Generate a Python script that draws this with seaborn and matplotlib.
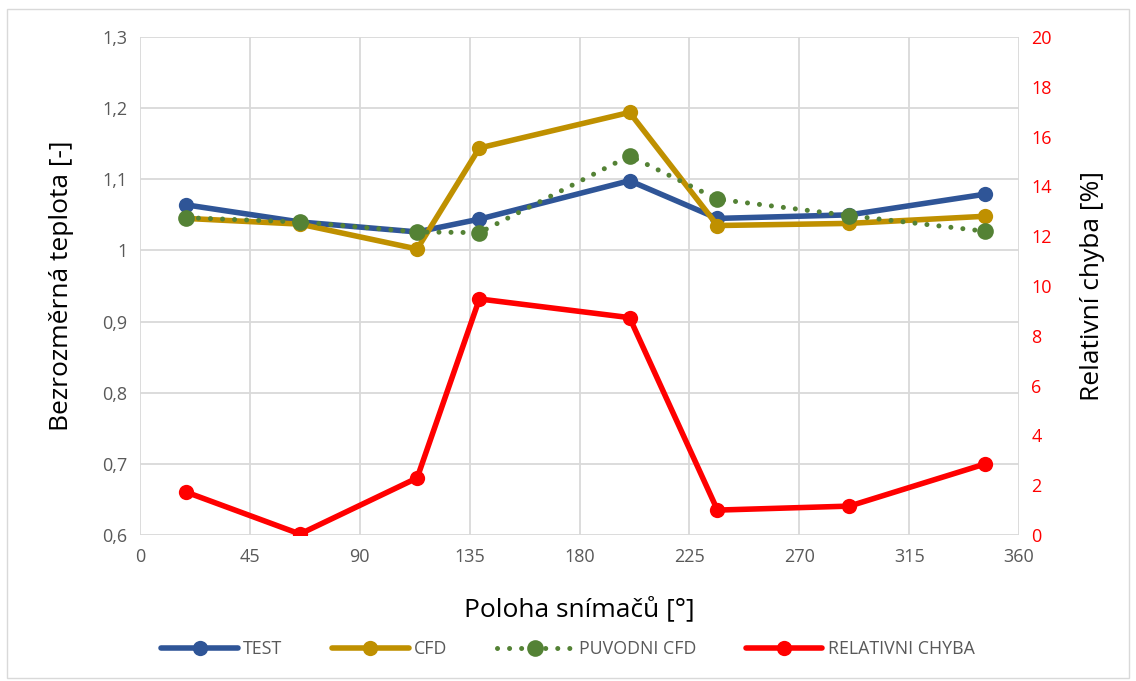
import matplotlib
matplotlib.use("Agg")
import matplotlib.pyplot as plt
import seaborn as sns
import pandas as pd
from matplotlib.patches import Rectangle
from matplotlib.ticker import FuncFormatter, MultipleLocator

poloha = [19, 65.5, 113.5, 139, 200.5, 236.5, 290.5, 346]
test = [1.064, 1.040, 1.026, 1.044, 1.098, 1.045, 1.050, 1.079]
cfd = [1.045, 1.037, 1.002, 1.144, 1.194, 1.035, 1.038, 1.048]
puvodni = [1.046, 1.040, 1.026, 1.025, 1.133, 1.072, 1.049, 1.027]
chyba = [1.72, 0.04, 2.29, 9.48, 8.73, 1.0, 1.16, 2.85]

sns.set_theme(style="white")
plt.rcParams['font.family'] = ['Open Sans', 'DejaVu Sans']

fig = plt.figure(figsize=(11.36, 6.81), dpi=100)
ax = fig.add_axes([140/1136, 1-535/681, 879/1136, 498/681])
ax2 = ax.twinx()

df = pd.DataFrame({"x": poloha, "test": test, "cfd": cfd, "puv": puvodni, "ch": chyba})

c_test = "#2F5597"
c_cfd = "#BF9000"
c_puv = "#548235"
c_red = "#FF0000"

sns.lineplot(data=df, x="x", y="test", ax=ax, color=c_test, lw=4, marker="o",
             markersize=11, markeredgewidth=0, label="TEST", legend=False, zorder=3)
sns.lineplot(data=df, x="x", y="cfd", ax=ax, color=c_cfd, lw=4, marker="o",
             markersize=11, markeredgewidth=0, label="CFD", legend=False, zorder=3)
sns.lineplot(data=df, x="x", y="puv", ax=ax, color=c_puv, lw=3.6, marker="o",
             markersize=12, markeredgewidth=0, label="PUVODNI CFD", legend=False, zorder=4,
             linestyle=(0, (0.01, 2.4)))
sns.lineplot(data=df, x="x", y="ch", ax=ax2, color=c_red, lw=4, marker="o",
             markersize=11, markeredgewidth=0, label="RELATIVNI CHYBA", legend=False)
for l in ax.lines + ax2.lines:
    l.set_solid_capstyle("round")
    l.set_dash_capstyle("round")

ax.set_xlim(0, 360)
ax.set_ylim(0.6, 1.3)
ax2.set_ylim(0, 20)
ax.xaxis.set_major_locator(MultipleLocator(45))
ax.yaxis.set_major_locator(MultipleLocator(0.1))
ax2.yaxis.set_major_locator(MultipleLocator(2))

def fmt(v, p):
    s = f"{v:.1f}".replace(".", ",")
    return "1" if abs(v - 1) < 1e-9 else s
ax.yaxis.set_major_formatter(FuncFormatter(fmt))

ax.grid(True, color="#D9D9D9", lw=1.3)
ax.set_axisbelow(True)
for a in (ax, ax2):
    for s in a.spines.values():
        s.set_visible(False)
ax.tick_params(axis="both", length=0, labelsize=13, labelcolor="#595959", pad=9)
ax2.tick_params(axis="y", length=0, labelsize=13, labelcolor=c_red, pad=9)

ax.set_xlabel("Poloha snímačů [°]", fontsize=19, color="black", labelpad=22)
ax.set_ylabel("Bezrozměrná teplota [-]", fontsize=19, color="black", labelpad=20)
ax2.set_ylabel("Relativní chyba [%]", fontsize=19, color="black", labelpad=20)
ax2.set_xlabel("")

handles = ax.lines[:3] + ax2.lines[:1]
labels = ["TEST", "CFD", "PUVODNI CFD", "RELATIVNI CHYBA"]
leg = fig.legend(handles, labels, loc="center", bbox_to_anchor=(0.5, 1-649/681), ncol=4,
                 frameon=False, fontsize=12.8, handlelength=4.3, columnspacing=2.8,
                 handletextpad=0.3, labelcolor="#595959")

fig.patches.append(Rectangle((7/1136, 0.005), 1-14/1136, 1-12/681, transform=fig.transFigure,
                             fill=False, edgecolor="#D9D9D9", lw=1))

fig.savefig("out.png", dpi=100)
